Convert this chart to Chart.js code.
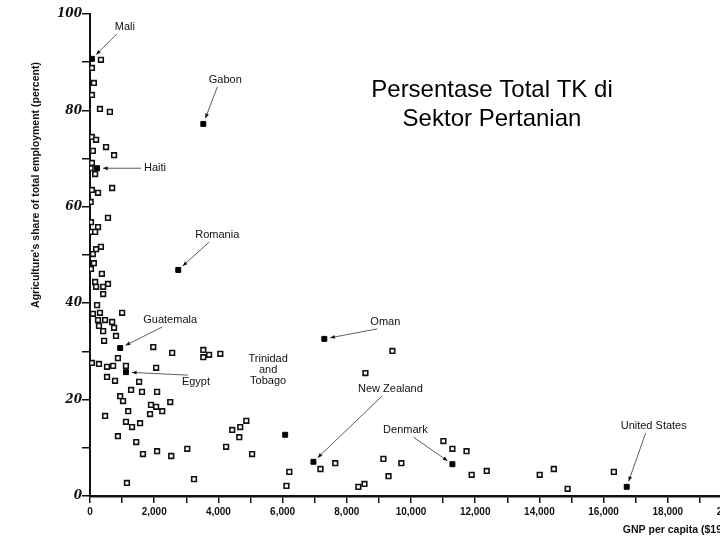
<!DOCTYPE html>
<html>
<head>
<meta charset="utf-8">
<script src="https://cdn.jsdelivr.net/npm/chart.js@4.4.1/dist/chart.umd.min.js"></script>
<style>
  html, body { margin: 0; padding: 0; background: #fff; overflow: hidden; }
  #wrap { width: 760px; height: 540px; }
</style>
</head>
<body>
<div id="wrap"><canvas id="c" width="760" height="540"></canvas></div>
<script>
// negara yang diberi label (GNP per kapita, % TK pertanian)
const labeledNames = ['Mali', 'Gabon', 'Haiti', 'Romania', 'Guatemala', 'Egypt', 'Oman',
    'Trinidad\nand\nTobago', 'New Zealand', 'Denmark', 'United States'];
const labeledGnp = [60, 3530, 220, 2750, 940, 1120, 7300, 6080, 6960, 11290, 16720];
const labeledShare = [90.7, 77.2, 68.0, 46.9, 30.7, 25.7, 32.6, 12.7, 7.1, 6.6, 1.9];

// negara lain (kotak kosong)
const otherGnp = [340, 60, 120, 60, 310, 620, 60, 190, 500, 90, 750, 60, 20, 160, 60, 250, 690, 20,
    560, 30, 250, 20, 160, 340, 190, 90, 120, 30, 370, 160, 560, 190, 410, 410, 220, 90, 310, 1000,
    250, 470, 690, 280, 750, 410, 810, 440, 1970, 2560, 3530, 3530, 3710, 4060, 870, 60, 280, 530,
    720, 1120, 2060, 530, 780, 1530, 1280, 1620, 2090, 940, 1030, 2500, 1900, 2060, 2250, 1190, 1870,
    470, 1560, 1120, 1310, 870, 1440, 1650, 2090, 2530, 3030, 4240, 5050, 4430, 4680, 4870, 4650,
    1150, 3240, 9420, 8580, 6210, 6120, 7180, 7640, 9140, 9700, 9300, 8360, 8550, 11010, 11290,
    11730, 11890, 12360, 14010, 14450, 14880, 16320];
const otherShare = [90.5, 88.8, 85.7, 83.2, 80.3, 79.7, 74.5, 73.9, 72.4, 71.6, 70.7, 69.1, 68.0, 66.8,
    63.5, 62.9, 63.9, 61.0, 57.7, 56.8, 55.8, 54.8, 54.8, 51.7, 51.2, 50.2, 48.3, 47.1, 46.1, 44.4,
    44.0, 43.4, 43.4, 41.9, 39.6, 37.8, 38.0, 38.0, 36.5, 36.5, 36.1, 35.3, 34.9, 34.2, 33.2, 32.2,
    30.9, 29.7, 30.3, 28.8, 29.3, 29.5, 28.6, 27.6, 27.4, 26.8, 27.0, 27.0, 26.6, 24.7, 23.9, 23.7,
    22.0, 21.6, 21.6, 20.7, 19.7, 19.5, 18.9, 18.5, 17.6, 17.6, 17.0, 16.6, 15.1, 15.4, 14.3, 12.4,
    11.2, 8.7, 9.3, 8.3, 9.8, 10.2, 8.7, 13.7, 14.3, 15.6, 12.2, 2.7, 3.5, 30.1, 25.5, 5.0, 2.1, 5.6,
    6.8, 7.7, 6.8, 4.1, 1.9, 2.5, 11.4, 9.8, 9.3, 4.4, 5.2, 4.4, 5.6, 1.5, 5.0];

const yTickLabels = { 0: '0', 20: '20', 40: '40', 60: '60', 80: '80', 100: '100' };

// posisi label relatif terhadap titik (px) dan apakah pakai panah
const labelOffsets = [[33, -32, 1], [22, -44, 1], [58, 0, 1], [39, -35, 1], [50, -28, 1], [70, 10, 1],
    [61, -17, 1], [-17, -65, 0], [77, -73, 1], [-47, -34, 1], [27, -61, 1]];

const annotate = {
    id: 'annotate',
    afterDatasetsDraw(chart) {
        const ctx = chart.ctx;
        const xs = chart.scales.x, ys = chart.scales.y;
        ctx.save();
        ctx.fillStyle = '#111';
        ctx.strokeStyle = '#333';
        ctx.font = '11px Arial, "Liberation Sans", sans-serif';
        ctx.textAlign = 'center';
        ctx.textBaseline = 'middle';
        labeledNames.forEach((name, i) => {
            const px = xs.getPixelForValue(labeledGnp[i]);
            const py = ys.getPixelForValue(labeledShare[i]);
            const [dx, dy, arrow] = labelOffsets[i];
            const lx = px + dx, ly = py + dy;
            const lines = name.split('\n');
            lines.forEach((t, k) => ctx.fillText(t, lx, ly + (k - (lines.length - 1) / 2) * 11));
            if (!arrow) return;
            // garis dari label ke titik
            let sx = lx, sy = ly;
            if (Math.abs(dy) < 5) { sx = lx - ctx.measureText(name).width / 2 - 3; }
            else { sy = ly + (dy < 0 ? 7 : -7); if (dx > 0) sx = lx - 8; else sx = lx + 8; }
            const ang = Math.atan2(py - sy, px - sx);
            const ex = px - Math.cos(ang) * 6, ey = py - Math.sin(ang) * 6;
            ctx.lineWidth = 0.8;
            ctx.beginPath(); ctx.moveTo(sx, sy); ctx.lineTo(ex, ey); ctx.stroke();
            ctx.beginPath();
            ctx.moveTo(ex, ey);
            ctx.lineTo(ex - Math.cos(ang - 0.4) * 5, ey - Math.sin(ang - 0.4) * 5);
            ctx.lineTo(ex - Math.cos(ang + 0.4) * 5, ey - Math.sin(ang + 0.4) * 5);
            ctx.closePath(); ctx.fill();
        });

        // judul sumbu
        ctx.font = 'bold 10.5px Arial, "Liberation Sans", sans-serif';
        ctx.fillText('GNP per capita ($1991)', 680, 530);
        ctx.save();
        ctx.translate(36, 185);
        ctx.rotate(-Math.PI / 2);
        ctx.fillText("Agriculture's share of total employment (percent)", 0, 0);
        ctx.restore();

        // judul slide
        ctx.font = '24px Arial, "Liberation Sans", sans-serif';
        ctx.fillStyle = '#000';
        ctx.fillText('Persentase Total TK di', 492, 90);
        ctx.fillText('Sektor Pertanian', 492, 119);
        ctx.restore();
    }
};

new Chart(document.getElementById('c'), {
    type: 'scatter',
    data: {
        datasets: [{
            data: otherGnp.map((g, i) => ({ x: g, y: otherShare[i] })),
            pointStyle: 'rect',
            pointRadius: 3.3,
            borderColor: '#111',
            borderWidth: 1.6,
            backgroundColor: '#fff'
        }, {
            data: labeledGnp.map((g, i) => ({ x: g, y: labeledShare[i] })),
            pointStyle: 'rect',
            pointRadius: 3.5,
            borderColor: '#000',
            borderWidth: 1,
            backgroundColor: '#000'
        }]
    },
    options: {
        responsive: false,
        animation: false,
        layout: { padding: { left: 0, right: 28, top: 14, bottom: 0 } },
        plugins: { legend: { display: false }, tooltip: { enabled: false } },
        scales: {
            x: {
                type: 'linear', min: 0, max: 20000,
                afterFit(s) { s.height = 44; },
                border: { color: '#111', width: 2.5 },
                grid: { drawOnChartArea: false, color: '#111', tickLength: 7, lineWidth: 1.5 },
                ticks: {
                    stepSize: 1000,
                    autoSkip: false,
                    maxRotation: 0,
                    minRotation: 0,
                    color: '#111',
                    font: { size: 10, family: 'Arial, "Liberation Sans", sans-serif', weight: 'bold' },
                    callback: v => v % 2000 === 0 ? v.toLocaleString('en-US') : ''
                }
            },
            y: {
                min: 0, max: 100,
                afterFit(s) { s.width = 90; },
                border: { color: '#111', width: 2 },
                grid: { drawOnChartArea: false, color: '#111', tickLength: 8, lineWidth: 1.5 },
                ticks: {
                    stepSize: 10,
                    color: '#111',
                    padding: 0,
                    font: { size: 12, style: 'italic', family: '"DejaVu Serif", serif', weight: 'bold' },
                    callback: v => yTickLabels[v] || ''
                }
            }
        }
    },
    plugins: [annotate]
});
</script>
</body>
</html>
